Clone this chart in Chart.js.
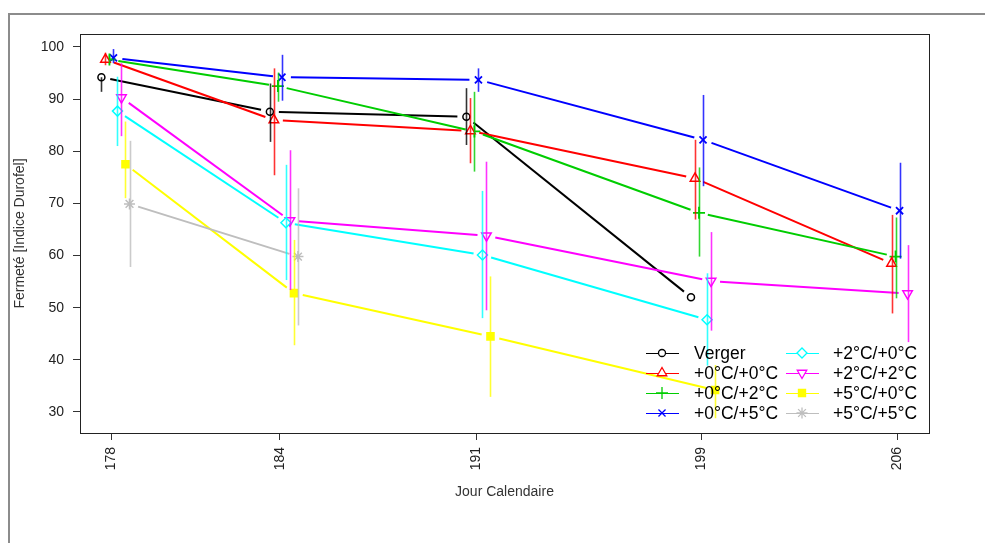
<!DOCTYPE html>
<html>
<head>
<meta charset="utf-8">
<script src="https://cdn.jsdelivr.net/npm/chart.js@4.4.0/dist/chart.umd.min.js"></script>
<style>
html, body { margin: 0; padding: 0; background: #fff; }
#wrap { width: 985px; height: 543px; position: relative; }
</style>
</head>
<body>
<div id="wrap"><canvas id="chart"></canvas></div>
<script>
// jours calendaires des mesures
var days = [178, 184, 191, 199, 206];
var yTicks = [30, 40, 50, 60, 70, 80, 90, 100];
var names = ['Verger', '+0°C/+0°C', '+0°C/+2°C', '+0°C/+5°C',
             '+2°C/+0°C', '+2°C/+2°C', '+5°C/+0°C', '+5°C/+5°C'];

// fermete moyenne + bornes des barres d'erreur
var vergerMean = [94.2, 87.6, 86.6, 52.0, null];
var vergerLow  = [91.4, 81.8, 81.2, null, null];
var vergerHigh = [94.2, 93.0, 92.1, null, null];

var c00Mean = [97.6, 86.0, 83.9, 74.8, 58.5];
var c00Low  = [96.5, 75.4, 77.7, 66.9, 48.9];
var c00High = [98.9, 95.9, 90.2, 82.2, 67.8];

var c02Mean = [97.6, 92.5, 83.8, 68.2, 59.8];
var c02Low  = [96.8, 89.5, 76.1, 59.8, 51.8];
var c02High = [98.4, 95.1, 91.4, 76.9, 67.3];

var c05Mean = [97.9, 94.2, 93.7, 82.2, 68.6];
var c05Low  = [96.9, 89.7, 91.4, 73.3, 59.4];
var c05High = [99.6, 98.5, 95.9, 90.8, 77.8];

var c20Mean = [87.7, 66.3, 60.1, 47.7, null];
var c20Low  = [81.0, 55.3, 48.0, 38.9, null];
var c20High = [94.3, 77.4, 72.4, 56.6, null];

var c22Mean = [90.3, 66.7, 63.8, 55.1, 52.7];
var c22Low  = [82.9, 53.4, 49.5, 45.6, 43.4];
var c22High = [96.9, 80.2, 78.0, 64.5, 62.0];

var c50Mean = [77.5, 52.8, 44.5, 34.2, null];
var c50Low  = [71.0, 42.8, 32.9, 28.8, null];
var c50High = [85.7, 63.0, 56.0, 39.0, null];

var c55Mean = [69.9, 59.8, null, null, null];
var c55Low  = [57.8, 46.6, null, null, null];
var c55High = [82.0, 72.9, null, null, null];

var means = [vergerMean, c00Mean, c02Mean, c05Mean, c20Mean, c22Mean, c50Mean, c55Mean];
var lows  = [vergerLow, c00Low, c02Low, c05Low, c20Low, c22Low, c50Low, c55Low];
var highs = [vergerHigh, c00High, c02High, c05High, c20High, c22High, c50High, c55High];

var colors = ['#000000', '#ff0000', '#00cd00', '#0000ff', '#00ffff', '#ff00ff', '#ffff00', '#bebebe'];
var markers = [
    { style: 'circle',   r: 3.5, bg: '#ffffff', rot: 0,   bw: 1.5 },
    { style: 'triangle', r: 5.5, bg: '#ffffff', rot: 0,   bw: 1.5 },
    { style: 'cross',    r: 6,   bg: '#ffffff', rot: 0,   bw: 1.8 },
    { style: 'crossRot', r: 5,   bg: '#ffffff', rot: 0,   bw: 1.8 },
    { style: 'rectRot',  r: 5,   bg: '#ffffff', rot: 0,   bw: 1.5 },
    { style: 'triangle', r: 5.5, bg: '#ffffff', rot: 180, bw: 1.5 },
    { style: 'rect',     r: 5,   bg: '#ffff00', rot: 0,   bw: 1.5 },
    { style: 'star',     r: 5.5, bg: '#bebebe', rot: 0,   bw: 1.5 }
];

// decalage horizontal des series (en jours) pour ne pas superposer
var DODGE = 0.143;
function offset(i) { return (i - 2.5) * DODGE; }
var GAP = 9; // trou autour des points, comme type="b"

var datasets = means.map(function (m, i) {
    return {
        label: names[i],
        data: days.map(function (d, k) { return { x: d + offset(i), y: m[k] }; }),
        showLine: false,
        borderColor: colors[i],
        backgroundColor: markers[i].bg,
        pointStyle: markers[i].style,
        pointRadius: markers[i].r,
        pointRotation: markers[i].rot,
        pointBorderWidth: markers[i].bw,
        pointBorderColor: colors[i],
        pointBackgroundColor: markers[i].bg
    };
});

var frame = {
    id: 'frame',
    beforeDraw: function (chart) {
        var ctx = chart.ctx;
        ctx.save();
        ctx.strokeStyle = '#8c8c8c';
        ctx.lineWidth = 2;
        ctx.beginPath();
        ctx.moveTo(9, 543);
        ctx.lineTo(9, 14);
        ctx.lineTo(985, 14);
        ctx.stroke();
        ctx.restore();
    },
    beforeDatasetsDraw: function (chart) {
        // lignes entre les points avec un trou autour de chaque point
        var ctx = chart.ctx;
        ctx.save();
        ctx.lineWidth = 2;
        ctx.lineCap = 'butt';
        chart.data.datasets.forEach(function (ds, i) {
            var pts = chart.getDatasetMeta(i).data;
            ctx.strokeStyle = colors[i];
            for (var k = 0; k < pts.length - 1; k++) {
                if (means[i][k] == null || means[i][k + 1] == null) continue;
                var x0 = pts[k].x, y0 = pts[k].y, x1 = pts[k + 1].x, y1 = pts[k + 1].y;
                var len = Math.hypot(x1 - x0, y1 - y0);
                var ux = (x1 - x0) / len, uy = (y1 - y0) / len;
                ctx.beginPath();
                ctx.moveTo(x0 + ux * GAP, y0 + uy * GAP);
                ctx.lineTo(x1 - ux * GAP, y1 - uy * GAP);
                ctx.stroke();
            }
        });
        ctx.restore();
    },
    afterDatasetsDraw: function (chart) {
        var ctx = chart.ctx, a = chart.chartArea;
        var xs = chart.scales.x, ys = chart.scales.y;
        ctx.save();
        ctx.beginPath();
        ctx.rect(a.left, a.top, a.right - a.left, a.bottom - a.top);
        ctx.clip();
        ctx.lineWidth = 1.6;
        ctx.globalAlpha = 0.8;
        lows.forEach(function (lo, i) {
            ctx.strokeStyle = colors[i];
            days.forEach(function (d, k) {
                if (lo[k] == null) return;
                var x = Math.round(xs.getPixelForValue(d + offset(i))) + 0.5;
                ctx.beginPath();
                ctx.moveTo(x, ys.getPixelForValue(lo[k]));
                ctx.lineTo(x, ys.getPixelForValue(highs[i][k]));
                ctx.stroke();
            });
        });
        ctx.restore();
    },
    afterDraw: function (chart) {
        var ctx = chart.ctx, a = chart.chartArea;
        ctx.save();
        // cadre du graphique
        ctx.strokeStyle = '#222';
        ctx.lineWidth = 1;
        ctx.strokeRect(Math.round(a.left) + 0.5, Math.round(a.top) + 0.5,
                       Math.round(a.right - a.left), Math.round(a.bottom - a.top));

        // titres des axes
        ctx.fillStyle = '#333';
        ctx.font = '14px "Liberation Sans", Arial, sans-serif';
        ctx.textAlign = 'center';
        ctx.textBaseline = 'middle';
        ctx.fillText('Jour Calendaire', (a.left + a.right) / 2, 492);
        ctx.save();
        ctx.translate(20, (a.top + a.bottom) / 2);
        ctx.rotate(-Math.PI / 2);
        ctx.fillText('Fermeté [Indice Durofel]', 0, 0);
        ctx.restore();

        // legende sur deux colonnes
        var lineX0 = [646, 786], lineX1 = [679, 819], markX = [662, 802], textX = [694, 833];
        ctx.font = '17.5px "Liberation Sans", Arial, sans-serif';
        ctx.textAlign = 'left';
        names.forEach(function (n, i) {
            var col = i < 4 ? 0 : 1, row = i % 4;
            var y = 353 + row * 20;
            ctx.strokeStyle = colors[i];
            ctx.lineWidth = 1.2;
            ctx.beginPath();
            ctx.moveTo(lineX0[col], y + 0.5);
            ctx.lineTo(lineX1[col], y + 0.5);
            ctx.stroke();
            ctx.fillStyle = markers[i].bg;
            ctx.lineWidth = 1.3;
            Chart.helpers.drawPoint(ctx, {
                pointStyle: markers[i].style,
                radius: markers[i].r,
                rotation: markers[i].rot,
                borderWidth: 1.3
            }, markX[col], y);
            ctx.fillStyle = '#000';
            ctx.fillText(n, textX[col], y + 1);
        });
        ctx.restore();
    }
};

Chart.defaults.font.family = '"Liberation Sans", Arial, sans-serif';
Chart.defaults.color = '#222';

new Chart(document.getElementById('chart'), {
    type: 'line',
    data: { datasets: datasets },
    plugins: [frame],
    options: {
        responsive: true,
        maintainAspectRatio: false,
        animation: false,
        devicePixelRatio: 1,
        layout: { padding: { left: 0, top: 34, right: 56, bottom: 0 } },
        plugins: { legend: { display: false }, tooltip: { enabled: false } },
        scales: {
            x: {
                type: 'linear',
                min: 176.88,
                max: 207.12,
                afterBuildTicks: function (s) { s.ticks = days.map(function (v) { return { value: v }; }); },
                afterFit: function (s) { s.height = 110; },
                grid: { drawOnChartArea: false, drawTicks: true, tickLength: 7, color: '#333' },
                border: { display: false },
                ticks: {
                    minRotation: 90, maxRotation: 90, padding: 7,
                    font: { size: 14 }, color: '#222',
                    callback: function (v) { return String(v); }
                }
            },
            y: {
                type: 'linear',
                min: 25.97,
                max: 102.49,
                afterBuildTicks: function (s) { s.ticks = yTicks.map(function (v) { return { value: v }; }); },
                afterFit: function (s) { s.width = 80; },
                grid: { drawOnChartArea: false, drawTicks: true, tickLength: 7, color: '#333' },
                border: { display: false },
                ticks: { padding: 9, font: { size: 14 }, color: '#222' }
            }
        }
    }
});
</script>
</body>
</html>
